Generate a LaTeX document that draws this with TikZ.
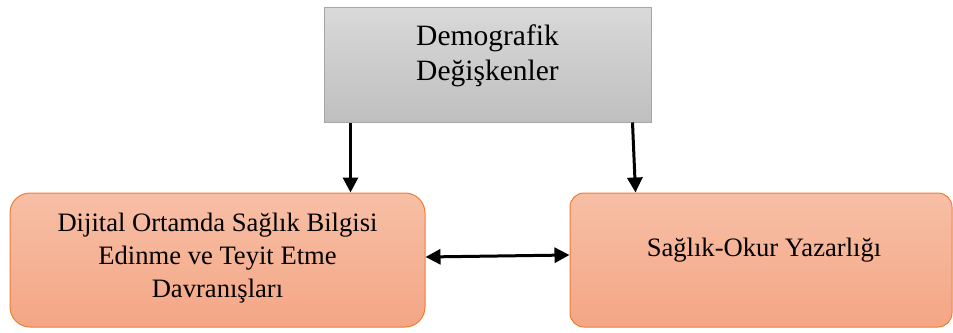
\documentclass[tikz,border=0pt]{standalone}
\usepackage{fontspec}
\setmainfont{Liberation Serif}
\usetikzlibrary{arrows.meta,positioning}
\definecolor{grayTop}{HTML}{D9D9D9}
\definecolor{grayBot}{HTML}{BFBFBF}
\definecolor{grayEdge}{HTML}{A6A6A6}
\definecolor{orTop}{HTML}{F7BFA6}
\definecolor{orBot}{HTML}{F4A685}
\definecolor{orEdge}{HTML}{ED7D31}
\tikzset{
  graybox/.style={draw=grayEdge, line width=1pt, top color=grayTop, bottom color=grayBot,
    inner sep=0pt},
  orbox/.style={draw=orEdge, line width=1pt, top color=orTop, bottom color=orBot,
    rounded corners=20pt, inner sep=0pt},
  graytext/.style={inner sep=0pt, align=center, font=\fontsize{29.5}{35}\selectfont},
  ortext/.style={inner sep=0pt, align=center, font=\fontsize{26.6}{33}\selectfont},
  arr/.style={line width=3pt, -{Triangle[width=15pt,length=15pt]}},
  darr/.style={line width=3pt, {Triangle[width=15pt,length=15pt]}-{Triangle[width=15pt,length=15pt]}}
}
\begin{document}
\begin{tikzpicture}[x=1pt,y=-1pt]
\useasboundingbox (0,0) rectangle (953,332);
\node[graybox, minimum width=327pt, minimum height=115pt] (demo) at (487.5,64.5) {};
\node[graytext] (demoT) at (487.5,56) {Demografik\\Değişkenler};
\node[orbox, minimum width=415pt, minimum height=134pt] (dij) at (217.5,260) {};
\node[ortext] (dijT) at (217.5,258) {Dijital Ortamda Sağlık Bilgisi\\Edinme ve Teyit Etme\\Davranışları};
\node[orbox, rounded corners=14pt, minimum width=382pt, minimum height=134pt] (sok) at (761,260) {};
\node[ortext] (sokT) at (764,250) {Sağlık-Okur Yazarlığı};
\draw[arr] ([xshift=27pt]demo.south west) -- ([xshift=341pt]dij.north west);
\draw[arr] ([xshift=309pt]demo.south west) -- ([xshift=66pt]sok.north west);
\draw[darr] ([yshift=3pt]dij.east) -- ([yshift=5pt]sok.west);
\end{tikzpicture}
\end{document}
